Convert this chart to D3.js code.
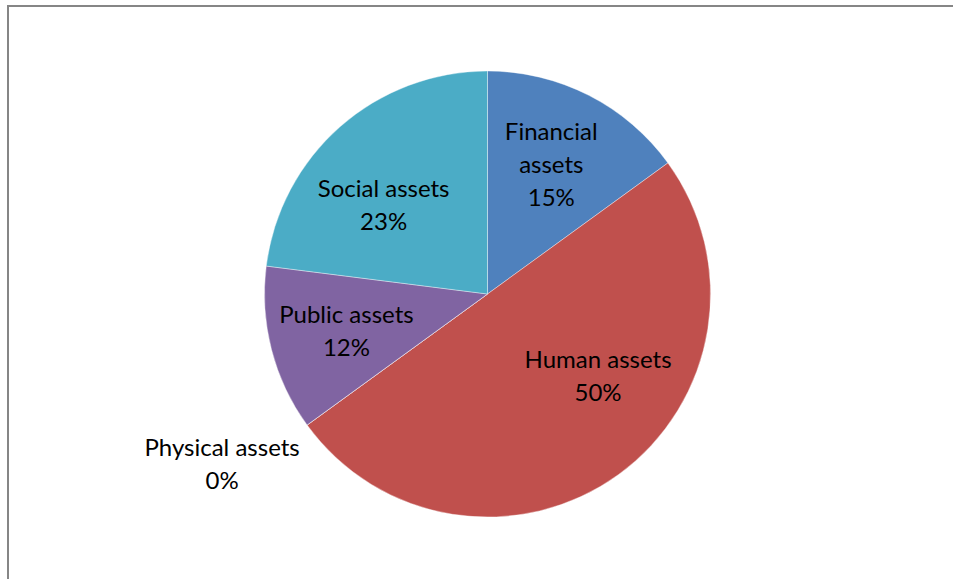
<!DOCTYPE html>
<html>
<head>
<meta charset="utf-8">
<script src="https://cdn.jsdelivr.net/npm/d3@7"></script>
<style>
  html, body { margin: 0; padding: 0; background: #fff; }
  svg { display: block; }
  text { font-family: Lato, "Open Sans", sans-serif; font-size: 24px; fill: #000; }
</style>
</head>
<body>
<svg id="chart" width="953" height="579"></svg>
<script>
// Asset categories, in clockwise order from 12 o'clock
const categories = ["Financial assets", "Human assets", "Physical assets", "Public assets", "Social assets"];
const shares = [15, 50, 0, 12, 23];
const colors = ["#4F81BD", "#C0504D", "#9BBB59", "#8064A2", "#4BACC6"];

const width = 953, height = 579;
const cx = 487.5, cy = 294, R = 223;

// small per-label adjustments of the in-slice label anchor
const labelNudge = [[0, -4], [28, -32], [0, 0], [-5, 2], [-11, 16]];

const svg = d3.select("#chart");

// chart-area frame (runs off the right and bottom edges)
svg.append("rect")
  .attr("x", 8).attr("y", 6)
  .attr("width", width + 20).attr("height", height + 20)
  .attr("fill", "none")
  .attr("stroke", "#868686")
  .attr("stroke-width", 2);

const data = categories.map((c, i) => ({ name: c, value: shares[i], color: colors[i], i }));

const pie = d3.pie().sort(null).value(d => d.value);
const arcs = pie(data);
const arc = d3.arc().innerRadius(0).outerRadius(R);
const labelArc = d3.arc().innerRadius(R * 0.63).outerRadius(R * 0.63);

const g = svg.append("g").attr("transform", `translate(${cx},${cy})`);

g.selectAll("path.slice")
  .data(arcs)
  .join("path")
  .attr("class", "slice")
  .attr("d", arc)
  .attr("fill", d => d.data.color)
  .attr("stroke", "rgba(255,255,255,0.5)")
  .attr("stroke-width", 0.75);

const lineH = 33;

arcs.forEach(a => {
  const d = a.data;
  const pct = d3.format(".0f")(d.value) + "%";
  if (d.value > 0) {
    const [x0, y0] = labelArc.centroid(a);
    const [nx, ny] = labelNudge[d.i];
    const x = x0 + nx, y = y0 + ny;
    // Financial label wraps onto two lines in its narrow slice
    const lines = d.name === "Financial assets" ? ["Financial", "assets", pct] : [d.name, pct];
    const t = g.append("text").attr("text-anchor", "middle");
    const top = y - (lines.length - 1) * lineH / 2;
    lines.forEach((s, k) => {
      t.append("tspan").attr("x", x).attr("y", top + k * lineH).attr("dy", "0.35em").text(s);
    });
  } else {
    // zero-size slice: label sits outside the edge
    const ang = a.startAngle;
    const ex = Math.sin(ang) * R, ey = -Math.cos(ang) * R;
    const x = ex - 85, y = ey + 39;
    const t = g.append("text").attr("text-anchor", "middle");
    [d.name, pct].forEach((s, k) => {
      t.append("tspan").attr("x", x).attr("y", y - lineH / 2 + k * lineH).attr("dy", "0.35em").text(s);
    });
  }
});
</script>
</body>
</html>
